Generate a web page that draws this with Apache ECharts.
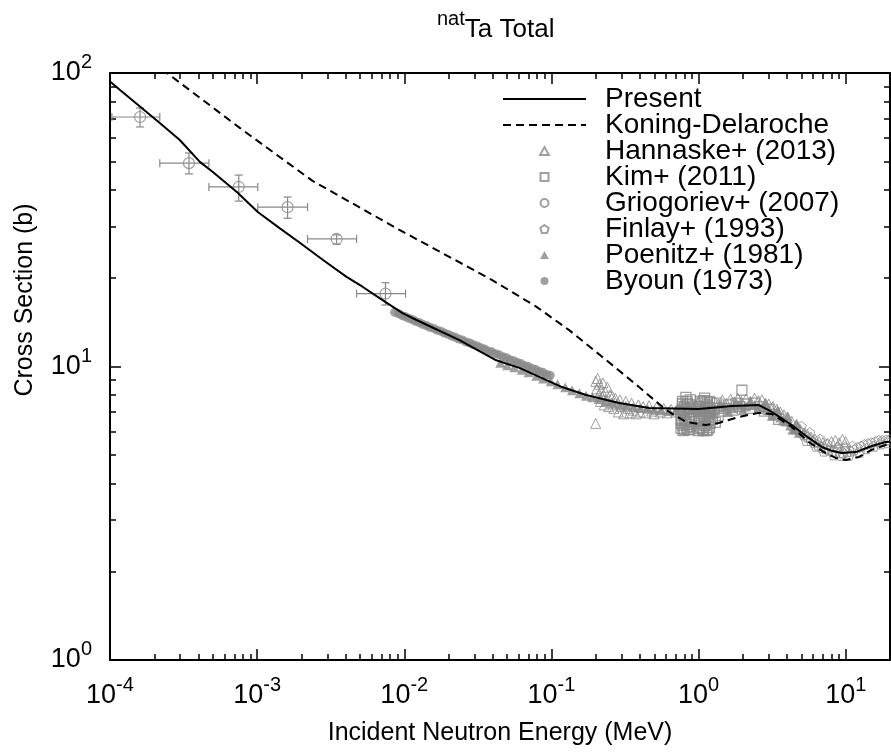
<!DOCTYPE html>
<html><head><meta charset="utf-8">
<script src="https://cdn.jsdelivr.net/npm/echarts@6/dist/echarts.min.js"></script>
<style>html,body{margin:0;padding:0;background:#fff}#c{width:891px;height:756px}</style>
</head><body><div id="c"></div>
<script>
const FONT = "'Liberation Sans', Arial, Helvetica, sans-serif";
const GRAY = '#888888';

// ---- tick values ----
const xMajorTicks = [1e-4, 1e-3, 1e-2, 1e-1, 1, 10];
const yMajorTicks = [1, 10, 100];
const xMinorTicks = [];
for (const d of xMajorTicks) for (let k = 2; k <= 9; k++) { const v = k * d; if (v < 20) xMinorTicks.push(v); }
const yMinorTicks = [];
for (const d of [1, 10]) for (let k = 2; k <= 9; k++) yMinorTicks.push(k * d);

// ---- series data [E (MeV), sigma (b)] ----
const present = [[1.0e-4,93.5],[1.17e-4,87.5],[2.18e-4,67.6],[2.98e-4,59.1],[4.08e-4,49.8],[5.0e-4,46.0],[7.28e-4,39.3],[1.01e-3,33.6],[1.42e-3,29.6],[1.95e-3,26.4],[2.79e-3,23.1],[4.05e-3,20.2],[5.2e-3,18.7],[6.79e-3,17.1],[9.73e-3,15.2],[1.21e-2,14.4],[2.37e-2,12.3],[4.22e-2,10.5],[6.05e-2,9.89],[0.118,8.51],[0.172,8.0],[0.288,7.51],[0.461,7.22],[1.0,7.17],[1.69,7.33],[2.57,7.39],[3.15,7.0],[4.30,6.32],[5.61,5.71],[6.87,5.32],[8.04,5.16],[9.40,5.07],[11.7,5.11],[15.0,5.36],[18.7,5.53],[20,5.54]];

const koning = [[1e-4,140],[2.44e-4,100],[7.62e-4,65.0],[2.38e-3,42.9],[9.27e-3,29.2],[1.8e-2,24.4],[3.96e-2,19.7],[7.88e-2,16.0],[0.132,13.3],[0.221,10.8],[0.394,8.51],[0.601,7.11],[0.822,6.47],[1.12,6.32],[1.37,6.42],[1.88,6.73],[2.57,6.95],[3.15,6.89],[4.30,6.22],[5.61,5.53],[7.31,5.07],[8.55,4.88],[10,4.80],[12.3,4.92],[15.0,5.20],[18.7,5.40],[20,5.43]];

const hannaske = [[0.200,8.9],[0.200,6.4],[0.203,8.4],[0.206,9.1],[0.209,8.0],[0.212,8.7],[0.215,7.6],[0.218,8.3],[0.221,7.9],[0.224,8.8],[0.228,7.4],[0.232,8.2],[0.236,7.7],[0.240,8.5],[0.245,7.3],[0.25,8.0],[0.255,7.5],[0.26,7.9],[0.266,7.2],[0.272,7.8],[0.278,7.4],[0.285,7.0],[0.292,7.7],[0.30,7.3],[0.31,6.9],[0.32,7.6],[0.33,7.2],[0.34,6.95],[0.35,7.5],[0.36,7.1],[0.375,6.9],[0.39,7.4],[0.40,7.0],[0.42,7.3],[0.44,6.95],[0.46,7.35],[0.48,7.05],[0.5,6.9],[0.52,7.3],[0.55,7.0],[0.58,7.2],[0.61,6.95],[0.65,7.15],[0.7,7.0],[0.75,7.3],[0.8,7.45],[0.85,7.2],[0.9,7.5],[0.95,7.35],[1.0,7.6],[1.06,7.3],[1.12,7.55],[1.2,7.4],[1.28,7.65],[1.36,7.45],[1.45,7.7],[1.55,7.5],[1.65,7.75],[1.75,7.55],[1.85,7.8],[1.95,7.6],[2.1,7.75],[2.25,7.6],[2.4,7.8],[2.55,7.65],[2.7,7.7],[2.85,7.5],[3.0,7.45],[3.2,7.3],[3.4,7.15],[3.6,7.0],[3.8,6.85],[4.0,6.7],[4.3,6.5],[4.6,6.3],[4.9,6.1],[5.2,5.95],[5.5,5.85],[5.8,5.75],[6.2,5.65],[6.6,5.55],[7.0,5.5],[7.5,5.45],[8.0,5.55],[8.5,5.6],[9.0,5.5],[9.5,5.65],[10.0,5.55]];

const kim = [[0.755,7.0],[0.76,6.15],[0.76,6.6],[0.765,6.4],[0.77,7.1],[0.775,7.45],[0.78,6.3],[0.78,7.6],[0.785,6.05],[0.79,6.85],[0.795,7.0],[0.80,6.1],[0.80,7.3],[0.805,6.6],[0.81,6.45],[0.815,7.15],[0.82,7.85],[0.825,6.35],[0.83,6.2],[0.83,6.95],[0.835,7.6],[0.84,7.45],[0.845,6.1],[0.85,6.35],[0.855,7.0],[0.86,6.7],[0.86,7.2],[0.865,6.5],[0.87,6.1],[0.875,7.4],[0.88,7.7],[0.885,6.25],
[1.00,6.05],[1.005,7.3],[1.01,6.5],[1.015,6.15],[1.02,7.0],[1.025,6.7],[1.03,7.6],[1.035,7.15],[1.04,6.2],[1.045,6.4],[1.05,6.8],[1.055,7.5],[1.06,7.3],[1.065,6.1],[1.075,6.9],[1.08,6.05],[1.085,7.65],[1.09,6.55],[1.095,6.3],[1.10,7.8],[1.105,6.75],[1.11,7.05],[1.12,6.3],[1.125,7.2],[1.135,6.05],[1.14,6.75],[1.145,7.6],[1.15,7.4],[1.16,6.1],[1.165,6.55],[1.175,7.25],[1.18,6.9],[1.185,6.2],[1.19,7.55],[1.195,7.0],[1.2,6.4],
[1.24,6.6],[1.27,7.2],[1.3,6.45],[1.33,7.5],[1.36,6.8],[1.4,7.05],[1.5,7.2],[1.6,7.4],[1.7,7.1],[1.8,7.5],[1.9,7.3],[1.97,8.3],[2.1,7.45],[2.25,7.2],[2.4,7.5],[2.6,7.3],[2.8,7.05],[3.0,7.15],[3.25,6.85],[3.5,6.6]];

// Griogoriev: [E, sigma, Elow, Ehigh, sigmaLow, sigmaHigh]
const griogoriev = [[1.60e-4,70.8,1.03e-4,2.18e-4,65.5,76.0],[3.44e-4,49.3,2.18e-4,4.70e-4,45.3,53.4],[7.50e-4,40.9,4.70e-4,1.01e-3,36.6,44.9],[1.61e-3,34.9,1.01e-3,2.20e-3,32.0,37.8],[3.47e-3,27.2,2.20e-3,4.74e-3,26.1,28.1],[7.45e-3,17.7,4.74e-3,1.02e-2,16.2,19.3]];

const finlay = [[4.6,6.2],[4.9,6.0],[5.0,6.25],[5.2,5.85],[5.4,5.6],[5.5,5.75],[5.7,5.95],[5.8,5.6],[6.1,5.5],[6.3,5.35],[6.5,5.4],[6.7,5.65],[6.9,5.3],[7.1,5.15],[7.3,5.25],[7.5,5.45],[7.7,5.2],[8.1,5.15],[8.3,5.0],[8.6,5.1],[8.8,5.3],[9.1,5.08],[9.3,4.98],[9.6,5.08],[9.9,5.3],[10.2,5.12],[10.5,4.98],[10.8,5.15],[11.1,5.35],[11.4,5.2],[12.0,5.3],[12.4,5.1],[12.7,5.35],[13.4,5.42],[13.8,5.25],[14.2,5.46],[15.0,5.5],[15.5,5.35],[15.9,5.55],[16.8,5.6],[17.3,5.45],[17.8,5.6],[18.8,5.62],[19.3,5.5],[19.8,5.62]];

const poenitz = [[0.045,10.3],[0.050,10.1],[0.056,9.95],[0.063,9.75],[0.070,9.55],[0.079,9.3],[0.088,9.1],[0.099,8.9],[0.11,8.7],[0.124,8.5],[0.138,8.3],[0.155,8.1],[0.172,7.95],[0.19,7.85],[0.21,7.75],[0.235,7.62],[0.26,7.52],[0.29,7.42],[0.32,7.35],[0.36,7.28],[0.4,7.22],[0.45,7.18],[0.5,7.12],[0.56,7.1],[0.63,7.05],[0.7,7.1],[0.8,7.05],[0.9,7.1],[1.0,7.0],[1.05,7.4],[1.15,7.15],[1.25,6.9],[1.3,7.1],[1.4,7.45],[1.5,7.25],[1.6,7.0],[1.7,7.2],[1.8,7.55],[1.9,7.35],[2.0,7.1],[2.1,7.3],[2.25,7.6],[2.4,7.4],[2.55,7.15],[2.7,7.25],[2.85,7.5],[3.0,7.1],[3.15,6.8],[3.3,6.9],[3.45,7.1],[3.6,6.7],[3.75,6.55],[3.9,6.5],[4.05,6.75],[4.2,6.3],[4.35,6.1],[4.5,6.1],[4.65,6.4],[4.8,5.95]];

const byoun = [[0.0086,15.3],[0.0091,15.15],[0.0096,14.93],[0.0101,14.8],[0.0107,14.6],[0.0113,14.46],[0.0119,14.25],[0.0126,14.12],[0.0133,13.93],[0.0141,13.8],[0.0149,13.6],[0.0158,13.48],[0.0167,13.3],[0.0177,13.18],[0.0187,13.0],[0.0198,12.87],[0.0210,12.7],[0.0222,12.58],[0.0235,12.4],[0.0249,12.3],[0.0264,12.12],[0.0279,12.02],[0.0296,11.85],[0.0313,11.75],[0.0331,11.58],[0.0351,11.48],[0.0371,11.3],[0.0393,11.22],[0.0416,11.05],[0.0441,10.96],[0.0467,10.8],[0.0494,10.71],[0.0523,10.55],[0.0554,10.47],[0.0587,10.32],[0.0621,10.23],[0.0658,10.07],[0.0696,10.0],[0.0737,9.85],[0.0781,9.77],[0.0827,9.62],[0.0875,9.55],[0.0927,9.4],[0.0981,9.33]];

const names = ['Present','Koning-Delaroche','Hannaske+ (2013)','Kim+ (2011)','Griogoriev+ (2007)','Finlay+ (1993)','Poenitz+ (1981)','Byoun (1973)'];

// ---- axes helpers ----
function powLabel(v) { const e = Math.round(Math.log10(v)); return '{b|10}{s|' + e + '}'; }
const labelRich = {
  b: { fontSize: 27, fontFamily: FONT, color: '#000', lineHeight: 27, verticalAlign: 'bottom' },
  s: { fontSize: 20, fontFamily: FONT, color: '#000', lineHeight: 20, verticalAlign: 'bottom', padding: [0, 0, 14, 0] }
};
function mkAxis(kind, pos, ticks, len, opts) {
  const a = {
    type: 'log', logBase: 10, gridIndex: 0, position: pos,
    min: kind === 'x' ? 1e-4 : 1, max: kind === 'x' ? 20 : 100,
    axisLine: { show: !!opts.line, onZero: false, lineStyle: { color: '#000', width: 2 } },
    axisTick: { show: true, inside: true, length: len, customValues: ticks, lineStyle: { color: '#000', width: 1.5 } },
    axisLabel: { show: false },
    splitLine: { show: false }, minorTick: { show: false }, minorSplitLine: { show: false }
  };
  if (opts.label) {
    a.axisLabel = { show: true, customValues: ticks, formatter: powLabel, rich: labelRich, margin: opts.margin, padding: opts.padding || 0 };
  }
  if (opts.name) {
    a.name = opts.name; a.nameLocation = 'middle'; a.nameGap = opts.nameGap;
    a.nameTextStyle = { fontSize: 25, fontFamily: FONT, color: '#000' };
  }
  return a;
}

const hollow = { color: 'rgba(0,0,0,0)', borderColor: GRAY, borderWidth: 1 };
const pentagon = 'path://M0,-10 L9.51,-3.09 L5.88,8.09 L-5.88,8.09 L-9.51,-3.09 Z';
const triangle = 'path://M0,-10 L10,8 L-10,8 Z';
const square = 'path://M-10,-10 L10,-10 L10,10 L-10,10 Z';
const noMarker = { color: 'rgba(0,0,0,0)', borderWidth: 0, opacity: 0 };

const option = {
  animation: false,
  backgroundColor: '#fff',
  title: {
    text: '{s|nat}{b|Ta Total}', left: 432, top: 12,
    textStyle: { fontWeight: 'normal', rich: {
      b: { fontSize: 26, fontFamily: FONT, fontWeight: 'normal', color: '#000', lineHeight: 26, verticalAlign: 'bottom' },
      s: { fontSize: 20, fontFamily: FONT, fontWeight: 'normal', color: '#000', lineHeight: 20, verticalAlign: 'bottom', padding: [0, 0, 14, 0] }
    } }
  },
  grid: { left: 110, top: 73, width: 780, height: 587, containLabel: false },
  xAxis: [
    mkAxis('x', 'bottom', xMajorTicks, 11, { line: true, label: true, margin: 22, name: 'Incident Neutron Energy (MeV)', nameGap: 61 }),
    mkAxis('x', 'bottom', xMinorTicks, 6, {}),
    mkAxis('x', 'top', xMajorTicks, 11, { line: true }),
    mkAxis('x', 'top', xMinorTicks, 6, {})
  ],
  yAxis: [
    mkAxis('y', 'left', yMajorTicks, 11, { line: true, label: true, margin: 18, padding: 0 }),
    mkAxis('y', 'left', yMinorTicks, 6, {}),
    mkAxis('y', 'right', yMajorTicks, 11, { line: true }),
    mkAxis('y', 'right', yMinorTicks, 6, {})
  ],
  legend: {
    data: [
      { name: names[0], itemStyle: noMarker },
      { name: names[1], itemStyle: noMarker },
      names[2], names[3], names[4], names[5], names[6], names[7]
    ],
    orient: 'vertical', left: 502, top: 85, padding: 0,
    itemWidth: 83, itemHeight: 8, itemGap: -2, selectedMode: false, symbolKeepAspect: true,
    textStyle: { fontFamily: FONT, fontSize: 28, color: '#000', lineHeight: 25, padding: [0, 0, 0, 14] }
  },
  graphic: [{
    type: 'text', x: 25, y: 300, rotation: Math.PI / 2,
    style: { text: 'Cross Section (b)', fontSize: 25, fontFamily: FONT, fill: '#000', align: 'center', verticalAlign: 'middle' }
  }],
  series: [
    { name: 'Byoun (1973)', type: 'scatter', data: byoun, symbol: 'circle', symbolSize: 9, itemStyle: { color: GRAY }, z: 2 },
    { name: 'Poenitz+ (1981)', type: 'scatter', data: poenitz, symbol: triangle, symbolSize: 10, itemStyle: { color: GRAY }, z: 2 },
    { name: 'Finlay+ (1993)', type: 'scatter', data: finlay, symbol: pentagon, symbolSize: 10, itemStyle: hollow, z: 2 },
    { name: 'Kim+ (2011)', type: 'scatter', data: kim, symbol: square, symbolSize: 10, itemStyle: { color: 'rgba(0,0,0,0)', borderColor: GRAY, borderWidth: 1.3 }, z: 2 },
    { name: 'Hannaske+ (2013)', type: 'scatter', data: hannaske, symbol: triangle, symbolSize: 10, itemStyle: hollow, z: 2 },
    { name: 'GrioErr', type: 'custom', data: griogoriev, encode: { x: 0, y: 1 }, z: 2,
      renderItem: function (params, api) {
        const x = api.value(0), y = api.value(1);
        const c = api.coord([x, y]);
        const l = api.coord([api.value(2), y]), r = api.coord([api.value(3), y]);
        const b = api.coord([x, api.value(4)]), t = api.coord([x, api.value(5)]);
        const cap = 4, st = { stroke: GRAY, lineWidth: 1.2 };
        return { type: 'group', children: [
          { type: 'line', shape: { x1: l[0], y1: c[1], x2: r[0], y2: c[1] }, style: st },
          { type: 'line', shape: { x1: l[0], y1: c[1] - cap, x2: l[0], y2: c[1] + cap }, style: st },
          { type: 'line', shape: { x1: r[0], y1: c[1] - cap, x2: r[0], y2: c[1] + cap }, style: st },
          { type: 'line', shape: { x1: c[0], y1: b[1], x2: c[0], y2: t[1] }, style: st },
          { type: 'line', shape: { x1: c[0] - cap, y1: b[1], x2: c[0] + cap, y2: b[1] }, style: st },
          { type: 'line', shape: { x1: c[0] - cap, y1: t[1], x2: c[0] + cap, y2: t[1] }, style: st }
        ] };
      } },
    { name: 'Griogoriev+ (2007)', type: 'scatter', data: griogoriev.map(p => [p[0], p[1]]), symbol: 'circle', symbolSize: 11, itemStyle: { color: 'rgba(0,0,0,0)', borderColor: GRAY, borderWidth: 1.2 }, z: 3 },
    { name: 'Koning-Delaroche', type: 'line', data: koning, symbol: 'none', smooth: false, lineStyle: { color: '#000', width: 2, type: [8, 5] }, itemStyle: { color: '#000' }, z: 5 },
    { name: 'Present', type: 'line', data: present, symbol: 'none', smooth: false, lineStyle: { color: '#000', width: 2 }, itemStyle: { color: '#000' }, z: 6 }
  ]
};
const chart = echarts.init(document.getElementById('c'), null, { renderer: 'canvas' });
chart.setOption(option);
</script></body></html>
